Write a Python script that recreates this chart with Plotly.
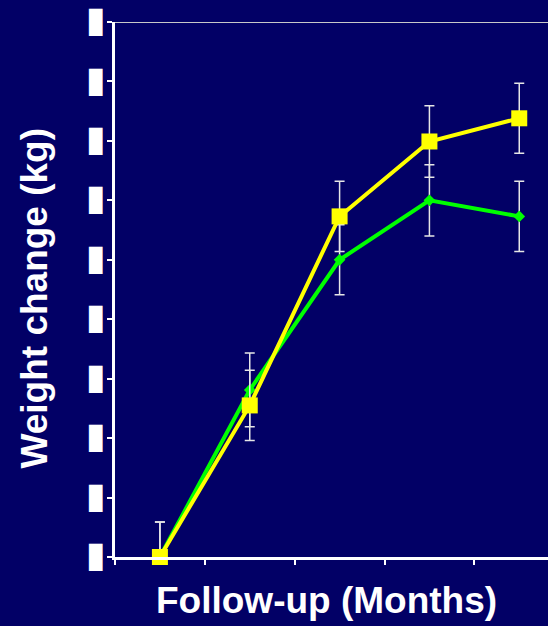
import plotly.graph_objects as go

months_idx = [0, 1, 2, 3, 4]
yellow_vals = [0.0, 2.55, 5.73, 6.99, 7.38]
yellow_err = [0.59, 0.59, 0.59, 0.60, 0.59]
green_vals = [0.0, 2.81, 5.00, 6.00, 5.73]
green_err = [0.59, 0.62, 0.59, 0.60, 0.59]
y_tickvals = [0, 1, 2, 3, 4, 5, 6, 7, 8, 9]
y_ticktext = ["<b>\u258A</b>"] * len(y_tickvals)
x_tickvals = [-0.5, 0.5, 1.5, 2.5, 3.5, 4.5]

BG = "#020066"
ERR = "#e6e6e6"

fig = go.Figure()
fig.add_trace(go.Scatter(
    x=months_idx, y=green_vals, mode="lines+markers",
    line=dict(color="#00ff00", width=4),
    marker=dict(symbol="diamond", size=9, color="#00ff00"),
    error_y=dict(type="data", array=green_err, color=ERR, thickness=1.5, width=5),
    cliponaxis=False, showlegend=False))
fig.add_trace(go.Scatter(
    x=months_idx, y=yellow_vals, mode="lines+markers",
    line=dict(color="#ffff00", width=4),
    marker=dict(symbol="square", size=16, color="#ffff00"),
    error_y=dict(type="data", array=yellow_err, color=ERR, thickness=1.5, width=5),
    cliponaxis=False, showlegend=False))

fig.add_shape(type="line", xref="paper", yref="y", x0=-0.012, x1=1, y0=9, y1=9,
              line=dict(color="#c8c8c8", width=2), layer="below")

fig.update_layout(
    width=548, height=626,
    paper_bgcolor=BG, plot_bgcolor=BG,
    margin=dict(l=115, r=0, t=22, b=69),
    xaxis=dict(range=[-0.5, 4.32], tickvals=x_tickvals, showticklabels=False,
               ticks="outside", ticklen=5, tickcolor="white", tickwidth=1.5,
               showline=True, linecolor="white", linewidth=2.5,
               showgrid=False, zeroline=False),
    yaxis=dict(range=[0, 9], tickvals=y_tickvals, ticktext=y_ticktext,
               ticks="outside", ticklen=5, tickcolor="white", tickwidth=1.5,
               ticklabelstandoff=-4,
               showline=True, linecolor="white", linewidth=2.5,
               showgrid=False, zeroline=False,
               tickfont=dict(family="DejaVu Sans", size=23, color="white")),
    annotations=[
        dict(text="<b>Follow-up (Months)</b>", xref="paper", yref="paper",
             x=0.4896, y=-0.082, xanchor="center", yanchor="middle", showarrow=False,
             font=dict(family="Liberation Sans", size=37, color="white")),
        dict(text="<b>Weight change (kg)</b>", xref="paper", yref="paper",
             x=-0.1848, y=0.485, xanchor="center", yanchor="middle", showarrow=False,
             textangle=-90,
             font=dict(family="Liberation Sans", size=37, color="white")),
    ],
)
fig.write_html("out.html", config={"displayModeBar": False},
               post_script="document.body.style.margin='0';document.body.style.overflow='hidden';")
